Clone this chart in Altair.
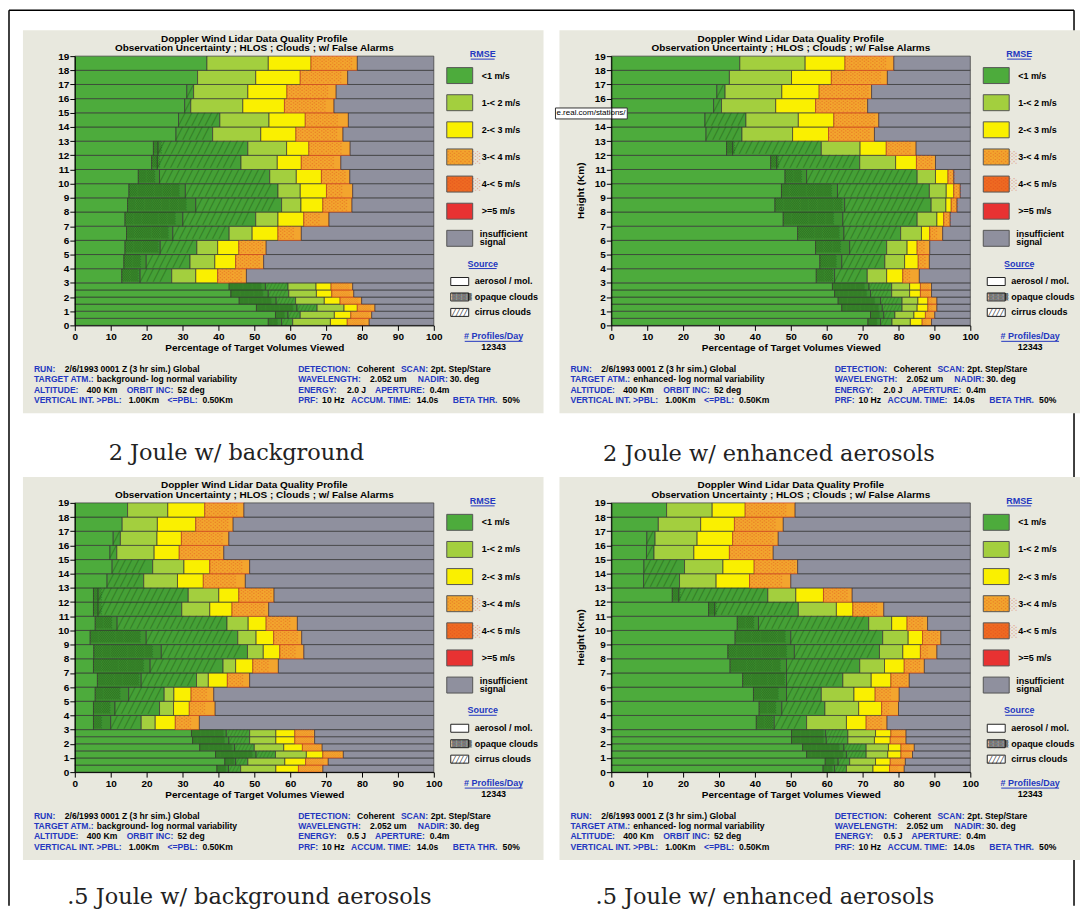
import altair as alt
import pandas as pd

# ---------------- data ----------------
BIN_LO = [0, 0.5, 1, 1.5, 2, 2.5, 3, 4, 5, 6, 7, 8, 9, 10, 11, 12, 13, 14, 15, 16, 17, 18]
BIN_HI = [0.5, 1, 1.5, 2, 2.5, 3, 4, 5, 6, 7, 8, 9, 10, 11, 12, 13, 14, 15, 16, 17, 18, 19]

# cumulative right edge (% of target volumes) of each segment, bottom bin first
P1_AEROSOL = [53.9, 55.9, 50.6, 45.8, 43.5, 43.0, 13.1, 13.7, 14.0, 14.4, 14.0, 14.7, 15.1, 17.7, 21.4, 21.9, 28.2, 28.9, 30.6, 31.2, 34.2, 36.8]
P1_OPAQUE = [57.6, 59.4, 61.9, 56.1, 53.9, 53.1, 18.2, 19.9, 23.8, 27.3, 30.1, 33.7, 30.8, 23.6, 23.0, 23.2, 28.2, 28.9, 30.6, 31.2, 34.2, 36.8]
P1_CIRRUS = [60.7, 62.8, 67.5, 61.5, 59.6, 59.4, 27.0, 32.1, 34.0, 43.0, 50.4, 57.6, 56.6, 54.3, 46.3, 48.2, 38.4, 40.4, 32.3, 33.1, 34.2, 36.8]
P1_R12 = [71.2, 72.3, 75.0, 69.5, 67.3, 67.2, 33.7, 39.0, 39.8, 49.4, 56.6, 63.0, 62.8, 61.7, 56.4, 59.0, 51.8, 54.1, 46.8, 48.2, 50.4, 53.9]
P1_R23 = [75.9, 76.9, 78.7, 73.9, 71.6, 71.4, 39.8, 44.8, 45.7, 56.6, 63.8, 69.1, 70.1, 68.7, 63.1, 65.2, 61.6, 64.2, 58.4, 59.1, 62.8, 65.8]
P1_R34 = [82.0, 82.7, 83.6, 79.9, 77.7, 77.4, 47.8, 52.6, 53.3, 63.1, 70.8, 77.2, 77.4, 76.6, 74.1, 76.7, 74.7, 76.2, 72.2, 72.8, 76.0, 78.7]

P2_AEROSOL = [71.5, 72.2, 64.2, 63.2, 62.2, 61.6, 57.1, 58.1, 56.9, 51.9, 47.9, 45.6, 47.4, 48.4, 44.4, 32.1, 26.4, 26.1, 28.5, 29.4, 32.9, 35.8]
P2_OPAQUE = [75.0, 75.9, 75.5, 75.0, 72.2, 71.8, 62.2, 64.2, 66.4, 64.8, 64.5, 65.0, 63.0, 54.4, 46.1, 33.8, 26.4, 26.1, 28.5, 29.4, 32.9, 35.8]
P2_CIRRUS = [78.2, 79.0, 81.0, 81.0, 78.1, 78.1, 71.3, 76.2, 76.7, 80.6, 85.2, 89.1, 88.6, 85.2, 69.2, 58.5, 36.4, 37.5, 30.7, 31.7, 32.9, 35.8]
P2_R12 = [83.3, 84.3, 85.2, 85.4, 83.1, 83.1, 76.7, 81.7, 82.4, 86.4, 90.7, 93.2, 93.3, 90.3, 79.2, 69.3, 50.5, 52.1, 45.8, 47.5, 50.2, 54.0]
P2_R23 = [86.6, 87.5, 88.2, 88.2, 86.1, 86.1, 81.2, 85.5, 85.2, 88.7, 92.6, 94.7, 95.4, 93.8, 85.0, 76.6, 60.5, 62.0, 56.9, 57.9, 61.3, 65.1]
P2_R34 = [89.2, 90.1, 90.7, 90.7, 89.2, 89.2, 85.8, 88.6, 88.7, 92.3, 94.4, 96.3, 97.2, 95.4, 90.3, 84.9, 73.3, 74.5, 71.4, 72.5, 76.9, 78.7]

P3_AEROSOL = [39.6, 41.8, 39.2, 34.8, 32.8, 32.5, 5.2, 5.2, 5.7, 6.3, 5.2, 5.3, 4.3, 5.7, 5.2, 5.2, 9.0, 10.4, 9.8, 10.7, 13.2, 14.7]
P3_OPAQUE = [42.8, 44.8, 50.5, 44.5, 42.9, 42.2, 10.0, 11.2, 15.0, 18.5, 21.0, 24.1, 19.9, 11.8, 6.5, 6.5, 9.0, 10.4, 9.8, 10.7, 13.2, 14.7]
P3_CIRRUS = [46.2, 48.2, 55.9, 50.0, 48.7, 48.7, 18.5, 23.6, 24.9, 33.9, 41.3, 48.1, 45.4, 42.4, 29.8, 31.6, 19.2, 21.7, 11.7, 12.7, 13.2, 14.7]
P3_R12 = [56.0, 58.5, 64.5, 58.2, 56.0, 56.0, 22.4, 27.5, 27.6, 37.2, 44.8, 52.5, 50.5, 48.3, 37.6, 40.1, 28.6, 30.4, 22.1, 22.9, 23.0, 25.9]
P3_R23 = [62.3, 64.3, 69.1, 63.4, 61.3, 61.3, 28.0, 31.9, 32.4, 42.5, 49.6, 57.1, 55.4, 53.3, 43.8, 45.7, 35.8, 37.6, 29.1, 29.7, 33.7, 36.2]
P3_R34 = [69.1, 70.6, 74.8, 68.9, 66.8, 66.8, 34.7, 39.1, 38.7, 48.7, 56.7, 63.8, 63.2, 62.0, 54.0, 55.5, 47.5, 48.7, 41.5, 42.9, 44.1, 47.1]

P4_AEROSOL = [59.0, 59.6, 54.4, 53.3, 50.2, 50.2, 40.4, 41.2, 39.6, 36.6, 33.1, 32.5, 34.5, 35.1, 27.1, 17.0, 9.0, 9.1, 9.8, 9.9, 13.1, 15.4]
P4_OPAQUE = [62.2, 63.2, 65.5, 64.8, 59.9, 59.7, 45.4, 47.5, 48.8, 48.8, 48.8, 51.0, 50.0, 41.0, 28.8, 18.8, 9.0, 9.1, 9.8, 9.9, 13.1, 15.4]
P4_CIRRUS = [65.5, 66.4, 71.0, 71.0, 65.9, 65.9, 54.4, 59.5, 58.5, 64.5, 69.2, 74.7, 75.6, 71.7, 52.1, 43.6, 19.0, 20.4, 11.9, 12.2, 13.1, 15.4]
P4_R12 = [72.9, 73.6, 77.0, 77.2, 73.3, 73.6, 65.5, 68.9, 67.6, 72.4, 76.1, 81.2, 82.7, 78.1, 62.7, 51.4, 29.2, 31.1, 23.0, 23.9, 24.9, 28.1]
P4_R23 = [77.5, 77.7, 80.7, 80.7, 77.7, 77.9, 71.0, 75.3, 73.5, 77.9, 81.6, 86.1, 86.7, 82.4, 67.3, 59.1, 38.5, 39.8, 32.9, 33.8, 34.3, 37.3]
P4_R34 = [81.6, 81.9, 83.9, 84.4, 82.1, 82.1, 76.8, 80.0, 80.2, 83.0, 87.2, 90.7, 91.8, 88.1, 75.9, 67.1, 50.0, 51.9, 45.1, 46.5, 47.9, 51.2]

SEGMENTS = ["<1 m/s aerosol", "<1 m/s opaque", "<1 m/s cirrus", "1-< 2 m/s", "2-< 3 m/s", "3-< 4 m/s", "insufficient signal"]
LEGEND_LABELS = ["<1 m/s", "1-< 2 m/s", "2-< 3 m/s", "3-< 4 m/s", "4-< 5 m/s", ">=5 m/s", "insufficient"]
SOURCE_LABELS = ["aerosol / mol.", "opaque clouds", "cirrus clouds"]
CAPTIONS = ["2 Joule w/ background", "2 Joule w/ enhanced aerosols",
            ".5 Joule w/ background aerosols", ".5 Joule w/ enhanced aerosols"]
TARGET_ATM = ["background", "enhanced", "background", "enhanced"]
ENERGY = ["2.0", "2.0", "0.5", "0.5"]
X_TICKS = [0, 10, 20, 30, 40, 50, 60, 70, 80, 90, 100]
Y_TICKS = list(range(0, 20))

# ---------------- styling ----------------
GREEN = "#4dab3c"
OPAQUE_C = "#3e9130"
CIRRUS_C = "#45a036"
LGREEN = "#a3cf3e"
YELLOW = "#faf000"
ORANGE = "#f3a52e"
ORANGE45 = "#ef6a22"
RED = "#e83232"
GREY = "#8f909e"
BEIGE = "#e8e8de"
BLUE = "#2438c0"
SEG_COLORS = [GREEN, OPAQUE_C, CIRRUS_C, LGREEN, YELLOW, ORANGE, GREY]
SEG_STROKES = ["#353535", "#353535", "#353535", "#353535", "#353535", "#c8401c", "#353535"]
LEG_COLORS = [GREEN, LGREEN, YELLOW, ORANGE, ORANGE45, RED, GREY]

SANS = "Liberation Sans Narrow, Arial Narrow, Liberation Sans, Arial, sans-serif"
SERIF = "DejaVu Serif, Liberation Serif, serif"
GLYPH = "DejaVu Sans"
W, H = 360, 270
PX_PER_PCT = W / 100.0
FS = 8.6  # footer font size

ONE = pd.DataFrame({"k": [0]})


def vtext(txt, x, y, size=9, weight="bold", color="black", align="left",
          font=SANS, angle=0, baseline="middle", opacity=1.0):
    return alt.Chart(ONE).mark_text(
        align=align, baseline=baseline, fontSize=size, fontWeight=weight,
        color=color, font=font, angle=angle, opacity=opacity
    ).encode(x=alt.value(x), y=alt.value(y), text=alt.value(txt))


def vrect(x, y, x2, y2, fill, stroke=None, sw=1.0):
    kw = dict(fill=fill, strokeWidth=sw)
    if stroke:
        kw["stroke"] = stroke
    return alt.Chart(ONE).mark_rect(**kw).encode(
        x=alt.value(x), x2=alt.value(x2), y=alt.value(y), y2=alt.value(y2))


def vrule(x, y, x2, y2, color="black", sw=1.0):
    return alt.Chart(ONE).mark_rule(color=color, strokeWidth=sw).encode(
        x=alt.value(x), x2=alt.value(x2), y=alt.value(y), y2=alt.value(y2))


def panel_df(bounds):
    rows = []
    for i, (lo, hi) in enumerate(zip(BIN_LO, BIN_HI)):
        edges = [0.0] + [b[i] for b in bounds] + [100.0]
        for s, seg in enumerate(SEGMENTS):
            a, b = edges[s], max(edges[s], edges[s + 1])
            if b > a:
                rows.append(dict(lo=lo, hi=hi, x0=a, x1=b, seg=seg))
    return pd.DataFrame(rows)


LEFT_LINES = [
    [("RUN:", 0, BLUE), ("2/6/1993 0001 Z (3 hr sim.) Global", 31, "black")],
    [("TARGET ATM.:", 0, BLUE), ("{atm}- log normal variability", 63, "black")],
    [("ALTITUDE:", 0, BLUE), ("400 Km", 53, "black"), ("ORBIT INC:", 93, BLUE), ("52 deg", 144, "black")],
    [("VERTICAL INT. >PBL:", 0, BLUE), ("1.00Km", 95, "black"), ("<=PBL:", 134, BLUE), ("0.50Km", 169, "black")],
]
RIGHT_LINES = [
    [("DETECTION:", 0, BLUE), ("Coherent", 59, "black"), ("SCAN:", 103, BLUE), ("2pt. Step/Stare", 133, "black")],
    [("WAVELENGTH:", 0, BLUE), ("2.052 um", 72, "black"), ("NADIR:", 120, BLUE), ("30. deg", 152, "black")],
    [("ENERGY:", 0, BLUE), ("{energy} J", 49, "black"), ("APERTURE:", 77, BLUE), ("0.4m", 132, "black")],
    [("PRF:", 0, BLUE), ("10 Hz", 24, "black"), ("ACCUM. TIME:", 53, BLUE), ("14.0s", 119, "black"),
     ("BETA THR.", 155, BLUE), ("50%", 205, "black")],
]


def make_panel(i, bounds):
    df = panel_df(bounds)
    right_col = i % 2 == 1
    layers = []
    # panel background
    layers.append(vrect(-52, -26, 470, 358, BEIGE))

    yvals = [v for v in Y_TICKS if not (i == 1 and v == 15)]
    xaxis = alt.Axis(values=X_TICKS, title="Percentage of Target Volumes Viewed",
                     titleFont=SANS, titleFontSize=10, titleFontWeight="bold", titleColor="black",
                     titlePadding=1, labelFont=SANS, labelFontSize=10, labelFontWeight="bold",
                     labelColor="black", labelPadding=1, labelFlush=False, tickSize=5,
                     tickColor="black", domainColor="black", grid=False, zindex=1)
    yaxis = alt.Axis(values=yvals, title=None, labelFont=SANS, labelFontSize=10,
                     labelFontWeight="bold", labelColor="black", labelPadding=1,
                     tickSize=5, tickColor="black", domainColor="black", grid=False, zindex=1)
    xs = alt.Scale(domain=[0, 100], nice=False, zero=False)
    ys = alt.Scale(domain=[0, 19], nice=False, zero=False)

    bars = alt.Chart(df).mark_rect(strokeWidth=0.7).encode(
        x=alt.X("x0:Q", scale=xs, axis=xaxis),
        x2="x1:Q",
        y=alt.Y("lo:Q", scale=ys, axis=yaxis),
        y2="hi:Q",
        color=alt.Color("seg:N", scale=alt.Scale(domain=SEGMENTS, range=SEG_COLORS), legend=None),
        stroke=alt.Stroke("seg:N", scale=alt.Scale(domain=SEGMENTS, range=SEG_STROKES), legend=None),
    )
    layers.append(bars)

    # textures: opaque clouds (checker), cirrus clouds (diagonal hatch), 3-4 m/s speckle
    for seg, glyph, col, op in [(SEGMENTS[1], "\u2592", "#1c5412", 0.5),
                                (SEGMENTS[2], "\u2571", "#1c5412", 0.5),
                                (SEGMENTS[5], "\u2591", "#e0461a", 0.45)]:
        hatch = alt.Chart(df).transform_filter(alt.datum.seg == seg).transform_calculate(
            ym="(datum.lo + datum.hi) / 2"
        ).mark_text(
            align="left", baseline="middle", font=GLYPH, color=col, opacity=op,
            ellipsis=glyph, limit={"expr": "(datum.x1 - datum.x0) * %g - 1" % PX_PER_PCT},
            fontSize={"expr": "datum.hi - datum.lo < 0.75 ? 6 : 11"},
        ).encode(
            x=alt.X("x0:Q", scale=xs, axis=xaxis),
            y=alt.Y("ym:Q", scale=ys, axis=yaxis),
            text=alt.value(glyph * 80),
        )
        layers.append(hatch)

    # titles
    layers.append(vtext("Doppler Wind Lidar Data Quality Profile", W / 2, -17.5, size=10, align="center"))
    layers.append(vtext("Observation Uncertainty ; HLOS ; Clouds ; w/ False Alarms", W / 2, -8, size=10, align="center"))
    if right_col:
        layers.append(vtext("Height (Km)", -30, H / 2, size=10, align="center", angle=270))

    # legend: RMSE
    layers.append(vtext("RMSE", 409, -2, size=9, color=BLUE, align="center"))
    layers.append(vrule(397, 3, 421, 3, color=BLUE, sw=1))
    for k, (lab, col) in enumerate(zip(LEGEND_LABELS, LEG_COLORS)):
        cy = 19.5 + 27.2 * k
        layers.append(vrect(373, cy - 8, 399, cy + 8, col, stroke="#555555", sw=1))
        if k in (3, 4):
            layers.append(vtext("\u2591" * 4, 374, cy + 1, size=11, weight="normal", font=GLYPH,
                                color="#d8401a", opacity=0.4))
        if lab == "insufficient":
            layers.append(vtext("insufficient", 406, cy - 4.5, size=9))
            layers.append(vtext("signal", 406, cy + 4, size=9))
        else:
            layers.append(vtext(lab, 408, cy, size=9))
    # legend: source
    layers.append(vtext("Source", 409, 208, size=9, color=BLUE, align="center"))
    layers.append(vrule(395, 213, 423, 213, color=BLUE, sw=1))
    for k, lab in enumerate(SOURCE_LABELS):
        cy = 226 + 15.5 * k
        layers.append(vrect(377, cy - 4, 395, cy + 4, "white", stroke="#222222", sw=1))
        if k == 1:
            layers.append(vtext("\u2592" * 4, 378, cy + 0.5, size=6.5, weight="normal", font=GLYPH))
        if k == 2:
            layers.append(vtext("\u2571" * 4, 378, cy + 0.5, size=6.5, weight="normal", font=GLYPH))
        layers.append(vtext(lab, 401, cy, size=9))
    layers.append(vtext("# Profiles/Day", 420, 281, size=9, color=BLUE, align="center"))
    layers.append(vrule(391, 286, 449, 286, color=BLUE, sw=1))
    layers.append(vtext("12343", 420, 292, size=9, align="center"))

    # footer run information
    L, R = -41, 224
    for ln, frags in enumerate(LEFT_LINES):
        for txt, dx, col in frags:
            layers.append(vtext(txt.format(atm=TARGET_ATM[i]), L + dx, 314 + 10.2 * ln, size=FS, color=col))
    for ln, frags in enumerate(RIGHT_LINES):
        for txt, dx, col in frags:
            layers.append(vtext(txt.format(energy=ENERGY[i]), R + dx, 314 + 10.2 * ln, size=FS, color=col))

    # caption under the panel
    cap_pos = [(162, 398), (158, 399), (175, 395), (154, 395)][i]
    layers.append(vtext(CAPTIONS[i], cap_pos[0], cap_pos[1], size=22.5, weight="normal",
                        color="#222222", font=SERIF, align="center"))

    if i == 1:
        # small browser tooltip captured in the scan
        layers.append(vrect(-56, 52, 16, 63, "white", stroke="#333333", sw=1))
        layers.append(vtext("e.real.com/stations/", -55, 57.5, size=8, weight="normal",
                            font="Liberation Sans, Arial, sans-serif"))
    if i == 0:
        # outer frame of the page
        layers.append(vrule(-66, -46, 1002, -46, sw=1.5))
        layers.append(vrule(-66, -46, -66, 852, sw=1.5))
        layers.append(vrule(1002, -46, 1002, 852, sw=1.5))

    return alt.layer(*layers).properties(width=W, height=H)


PANELS = [
    (P1_AEROSOL, P1_OPAQUE, P1_CIRRUS, P1_R12, P1_R23, P1_R34),
    (P2_AEROSOL, P2_OPAQUE, P2_CIRRUS, P2_R12, P2_R23, P2_R34),
    (P3_AEROSOL, P3_OPAQUE, P3_CIRRUS, P3_R12, P3_R23, P3_R34),
    (P4_AEROSOL, P4_OPAQUE, P4_CIRRUS, P4_R12, P4_R23, P4_R34),
]

chart = alt.concat(*[make_panel(i, b) for i, b in enumerate(PANELS)],
                   columns=2, spacing=178, bounds="flush").properties(
    padding=0, background="white"
).configure_view(stroke=None)

chart.save("out.html", embed_options={"renderer": "svg", "actions": False})
